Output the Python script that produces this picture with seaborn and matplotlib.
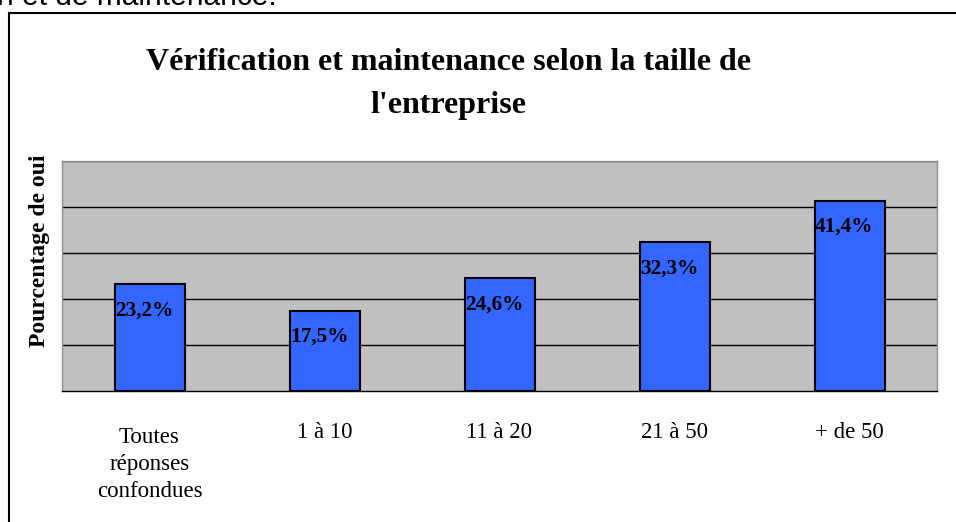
import matplotlib
matplotlib.use("Agg")
import matplotlib.pyplot as plt
import matplotlib.transforms as mtransforms
import seaborn as sns
from matplotlib.patches import Rectangle

categories = ["Toutes\nréponses\nconfondues", "1 à 10", "11 à 20", "21 à 50", "+ de 50"]
values = [23.2, 17.5, 24.6, 32.3, 41.4]
labels = ["23,2%", "17,5%", "24,6%", "32,3%", "41,4%"]

sns.set_style("white")
plt.rcParams["font.family"] = ["Liberation Serif", "DejaVu Serif"]
plt.rcParams["text.color"] = "black"
plt.rcParams["axes.labelcolor"] = "black"
plt.rcParams["xtick.color"] = "black"

fig = plt.figure(figsize=(9.56, 5.22), dpi=100)
ax = fig.add_axes([62 / 956, 1 - 391 / 522, 875 / 956, 230 / 522])
ax.set_facecolor("#C0C0C0")

sns.barplot(x=categories, y=values, color="#3366FF", edgecolor="black",
            linewidth=1.5, width=0.4, saturation=1, ax=ax, zorder=3)

ax.set_ylim(0, 50)
ax.set_xlim(-0.5, len(categories) - 0.5)
ax.set_yticks([10, 20, 30, 40, 50])
ax.set_yticklabels([])
ax.tick_params(axis="y", length=0)
ax.yaxis.grid(True, color="black", linewidth=1)
ax.set_axisbelow(True)

ax.set_xticks(range(len(categories)))
ax.set_xticklabels(categories, fontsize=16.5, linespacing=1.4)
ax.tick_params(axis="x", which="major", length=0, pad=22)
ax.set_xticks([i - 0.5 for i in range(len(categories) + 1)], minor=True)
ax.tick_params(axis="x", which="minor", length=6, width=1, color="#404040")
for t in ax.get_xticklabels():
    t.set_verticalalignment("top")
# the multi-line label sits a little lower than the others
first = ax.get_xticklabels()[0]
first.set_transform(first.get_transform() +
                    mtransforms.ScaledTranslation(0, -5 / 100, fig.dpi_scale_trans))

for s in ["top", "right", "left"]:
    ax.spines[s].set_color("#909090")
    ax.spines[s].set_linewidth(1)
ax.spines["bottom"].set_color("black")
ax.spines["bottom"].set_linewidth(1)

for i, (v, lab) in enumerate(zip(values, labels)):
    ax.annotate(lab, xy=(i - 0.2, v), xytext=(0.5, -19), textcoords="offset points",
                ha="left", va="center", fontsize=15.3, fontweight="bold", zorder=5)

ax.set_xlabel("")
ax.set_ylabel("Pourcentage de oui", fontsize=17, fontweight="bold")
ax.yaxis.set_label_coords(-0.0135, 0.61)

fig.text(448 / 956, 1 - 84 / 522, "Vérification et maintenance selon la taille de\nl'entreprise",
         ha="center", va="center", fontsize=23, fontweight="bold", linespacing=1.62)

fig.text(-0.003, 1 - 5 / 522, "n et de maintenance.", ha="left", va="baseline",
         fontsize=21.5, family=["Liberation Sans", "DejaVu Sans"])

fig.add_artist(Rectangle((8.5 / 956, -0.05), 1.1, 1 - 12.5 / 522 + 0.05,
                         transform=fig.transFigure, fill=False, edgecolor="black",
                         linewidth=1.5))

fig.savefig("out.png", dpi=100)
